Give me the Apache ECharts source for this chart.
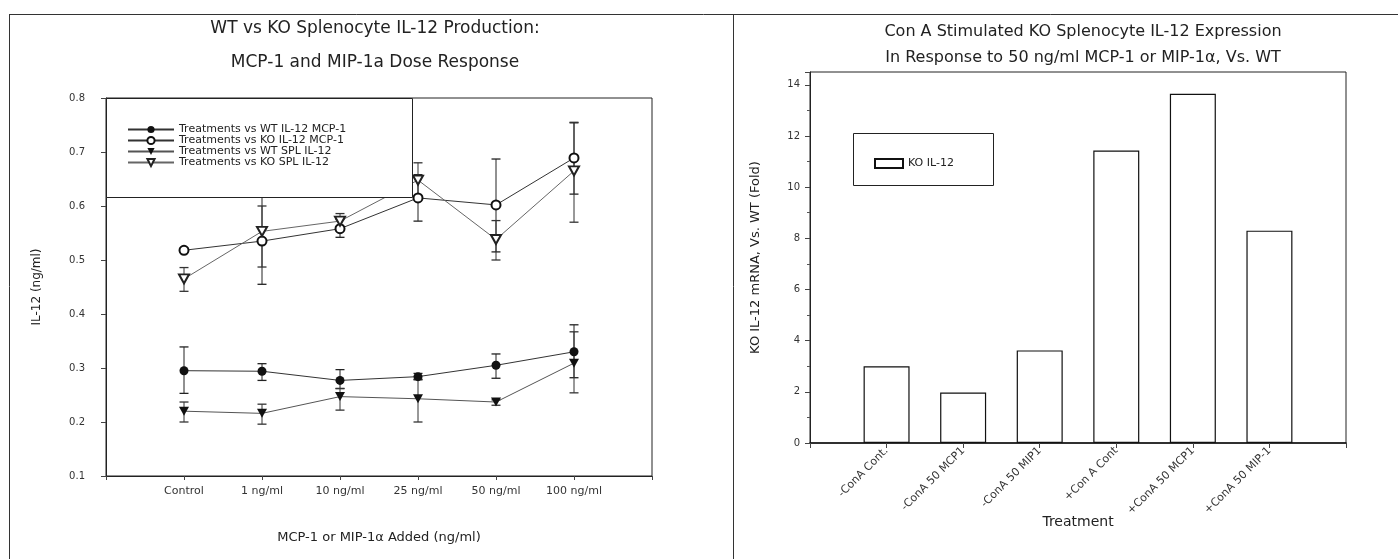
<!DOCTYPE html>
<html><head><meta charset="utf-8">
<script src="https://cdn.jsdelivr.net/npm/echarts@6/dist/echarts.min.js"></script>
<style>html,body{margin:0;padding:0;background:#fff}#c{width:1398px;height:559px}</style>
</head><body><div id="c"></div>
<script>
// ---- Left chart data ----
const doseLabels = ['Control', '1 ng/ml', '10 ng/ml', '25 ng/ml', '50 ng/ml', '100 ng/ml'];
const seriesNames = ['Treatments vs WT IL-12 MCP-1', 'Treatments vs KO IL-12 MCP-1', 'Treatments vs WT SPL IL-12', 'Treatments vs KO SPL IL-12'];
const wtMcp   = [0.295, 0.294, 0.277, 0.284, 0.305, 0.330];
const wtMcpHi = [0.339, 0.308, 0.297, 0.290, 0.326, 0.380];
const wtMcpLo = [0.253, 0.277, 0.262, 0.279, 0.281, 0.282];
const koMcp   = [0.518, 0.535, 0.558, 0.615, 0.602, 0.689];
const koMcpHi = [0.522, 0.618, 0.575, 0.658, 0.687, 0.754];
const koMcpLo = [0.514, 0.455, 0.542, 0.572, 0.515, 0.622];
const wtSpl   = [0.220, 0.216, 0.247, 0.243, 0.237, 0.309];
const wtSplHi = [0.237, 0.233, 0.262, 0.278, 0.241, 0.367];
const wtSplLo = [0.200, 0.196, 0.222, 0.200, 0.231, 0.254];
const koSpl   = [0.465, 0.553, 0.572, 0.648, 0.538, 0.665];
const koSplHi = [0.486, 0.600, 0.586, 0.680, 0.573, 0.755];
const koSplLo = [0.442, 0.487, 0.560, 0.618, 0.500, 0.570];

// ---- Right chart data ----
const treatments = ['-ConA Cont.', '-ConA 50 MCP1', '-ConA 50 MIP1', '+Con A Cont', '+ConA 50 MCP1', '+ConA 50 MIP-1'];
const koFold = [3.0, 1.97, 3.62, 11.43, 13.65, 8.30];
const barName = 'KO IL-12';

const FONT = 'DejaVu Sans';
const TXT = '#222';

function pts(arr) { return arr.map((v, i) => [i + 1, v]); }

function errSeries(name, hi, lo, color) {
  return {
    type: 'custom', name: name + ' err', xAxisIndex: 0, yAxisIndex: 0, z: 3, silent: true,
    data: hi.map((h, i) => [i + 1, lo[i], h]),
    encode: { x: 0, y: [1, 2] },
    renderItem: function (params, api) {
      const x = api.value(0);
      const p1 = api.coord([x, api.value(1)]);
      const p2 = api.coord([x, api.value(2)]);
      const w = 4.5;
      return {
        type: 'group', children: [
          { type: 'line', shape: { x1: p1[0], y1: p1[1], x2: p2[0], y2: p2[1] }, style: { stroke: color, lineWidth: 1 } },
          { type: 'line', shape: { x1: p1[0] - w, y1: p1[1], x2: p1[0] + w, y2: p1[1] }, style: { stroke: color, lineWidth: 1.3 } },
          { type: 'line', shape: { x1: p2[0] - w, y1: p2[1], x2: p2[0] + w, y2: p2[1] }, style: { stroke: color, lineWidth: 1.3 } }
        ]
      };
    }
  };
}

const chart = echarts.init(document.getElementById('c'), null, { renderer: 'canvas' });

const option = {
  animation: false,
  backgroundColor: '#fff',
  textStyle: { fontFamily: FONT, color: TXT },
  title: [
    {
      text: 'WT vs KO Splenocyte IL-12 Production:\nMCP-1 and MIP-1a Dose Response',
      left: 370, top: 7, textAlign: 'center',
      textStyle: { fontFamily: FONT, fontSize: 17, fontWeight: 'normal', color: TXT, lineHeight: 34 }
    },
    {
      text: 'Con A Stimulated KO Splenocyte IL-12 Expression\nIn Response to 50 ng/ml MCP-1 or MIP-1α, Vs. WT',
      left: 1078, top: 14, textAlign: 'center',
      textStyle: { fontFamily: FONT, fontSize: 16, fontWeight: 'normal', color: TXT, lineHeight: 26 }
    }
  ],
  legend: [
    {
      data: seriesNames.map(n => ({ name: n })),
      orient: 'vertical', left: 122, top: 119, z: 10,
      itemWidth: 46, itemHeight: 9, itemGap: 0,
      textStyle: { fontFamily: FONT, fontSize: 11, color: TXT, lineHeight: 8.5 }
    },
    {
      data: [{ name: barName, icon: 'rect' }],
      left: 869, top: 153, z: 10,
      itemWidth: 28, itemHeight: 9,
      textStyle: { fontFamily: FONT, fontSize: 11, color: TXT }
    }
  ],
  grid: [
    { left: 106, top: 98, width: 546, height: 378, show: true, borderColor: '#222', borderWidth: 1 },
    { left: 810, top: 72, width: 536, height: 371, show: true, borderColor: '#222', borderWidth: 1 }
  ],
  xAxis: [
    {
      type: 'value', gridIndex: 0, min: 0, max: 7, interval: 1,
      splitLine: { show: false },
      axisLine: { lineStyle: { color: '#222' } },
      axisTick: { length: 4, lineStyle: { color: '#444' } },
      axisLabel: { formatter: v => doseLabels[v - 1] || '', fontFamily: FONT, fontSize: 11, color: '#333', margin: 10 },
      name: 'MCP-1 or MIP-1α Added (ng/ml)', nameLocation: 'middle', nameGap: 55,
      nameTextStyle: { fontFamily: FONT, fontSize: 13, color: TXT }
    },
    {
      type: 'value', gridIndex: 1, min: 0, max: 7, interval: 1,
      splitLine: { show: false },
      axisLine: { lineStyle: { color: '#111', width: 1.5 } },
      axisTick: { length: 5, lineStyle: { color: '#444' } },
      axisLabel: { formatter: v => treatments[v - 1] || '', rotate: 45, fontFamily: FONT, fontSize: 11, color: '#333', margin: 6 },
      name: 'Treatment', nameLocation: 'middle', nameGap: 72, nameMoveOverlap: false,
      nameTextStyle: { fontFamily: FONT, fontSize: 14, color: TXT }
    }
  ],
  yAxis: [
    {
      type: 'value', gridIndex: 0, min: 0.1, max: 0.8, interval: 0.1,
      splitLine: { show: false },
      axisLine: { lineStyle: { color: '#222' } },
      axisTick: { length: 5, lineStyle: { color: '#444' } },
      axisLabel: { formatter: v => v.toFixed(1), fontFamily: FONT, fontSize: 10, color: '#333', margin: 21 },
      name: 'IL-12 (ng/ml)', nameLocation: 'middle', nameGap: 63,
      nameTextStyle: { fontFamily: FONT, fontSize: 12, color: TXT }
    },
    {
      type: 'value', gridIndex: 1, min: 0, max: 14.5, interval: 2,
      splitLine: { show: false },
      axisLine: { lineStyle: { color: '#222' } },
      axisTick: { length: 5, lineStyle: { color: '#444' } },
      minorTick: { show: true, splitNumber: 2, length: 3, lineStyle: { color: '#555' } },
      axisLabel: { formatter: v => (v % 2 === 0 ? String(v) : ''), fontFamily: FONT, fontSize: 10, color: '#333', margin: 10 },
      name: 'KO IL-12 mRNA, Vs. WT (Fold)', nameLocation: 'middle', nameGap: 48,
      nameTextStyle: { fontFamily: FONT, fontSize: 13, color: TXT }
    }
  ],
  graphic: [
    { type: 'line', z: 1, shape: { x1: 9.5, y1: 14, x2: 9.5, y2: 559 }, style: { stroke: '#333', lineWidth: 1 } },
    { type: 'line', z: 1, shape: { x1: 733.5, y1: 14, x2: 733.5, y2: 559 }, style: { stroke: '#333', lineWidth: 1 } },
    { type: 'line', z: 1, shape: { x1: 9, y1: 14.5, x2: 1398, y2: 14.5 }, style: { stroke: '#333', lineWidth: 1 } },
    { type: 'rect', z: 6, shape: { x: 106.5, y: 98.5, width: 306, height: 99 }, style: { fill: '#fff', stroke: '#222', lineWidth: 1 } },
    { type: 'rect', z: 6, shape: { x: 853.5, y: 133.5, width: 140, height: 52 }, style: { fill: '#fff', stroke: '#222', lineWidth: 1 } }
  ],
  series: [
    errSeries(seriesNames[0], wtMcpHi, wtMcpLo, '#222'),
    errSeries(seriesNames[1], koMcpHi, koMcpLo, '#222'),
    errSeries(seriesNames[2], wtSplHi, wtSplLo, '#333'),
    errSeries(seriesNames[3], koSplHi, koSplLo, '#333'),
    {
      type: 'line', name: seriesNames[0], xAxisIndex: 0, yAxisIndex: 0, z: 4,
      data: pts(wtMcp), symbol: 'circle', symbolSize: 9,
      itemStyle: { color: '#111' }, lineStyle: { color: '#333', width: 1 }
    },
    {
      type: 'line', name: seriesNames[1], xAxisIndex: 0, yAxisIndex: 0, z: 4,
      data: pts(koMcp), symbol: 'emptyCircle', symbolSize: 9,
      itemStyle: { color: '#111', borderWidth: 1.2 }, lineStyle: { color: '#333', width: 1 }
    },
    {
      type: 'line', name: seriesNames[2], xAxisIndex: 0, yAxisIndex: 0, z: 4,
      data: pts(wtSpl), symbol: 'triangle', symbolRotate: 180, symbolSize: [10, 9],
      itemStyle: { color: '#111' }, lineStyle: { color: '#555', width: 1 }
    },
    {
      type: 'line', name: seriesNames[3], xAxisIndex: 0, yAxisIndex: 0, z: 4,
      data: pts(koSpl), symbol: 'emptyTriangle', symbolRotate: 180, symbolSize: [10, 9],
      itemStyle: { color: '#222', borderWidth: 1 }, lineStyle: { color: '#666', width: 1 }
    },
    {
      type: 'bar', name: barName, xAxisIndex: 1, yAxisIndex: 1,
      data: pts(koFold), barWidth: 46,
      itemStyle: { color: '#fff', borderColor: '#111', borderWidth: 1.2 }
    }
  ]
};
chart.setOption(option);
</script>
</body></html>
